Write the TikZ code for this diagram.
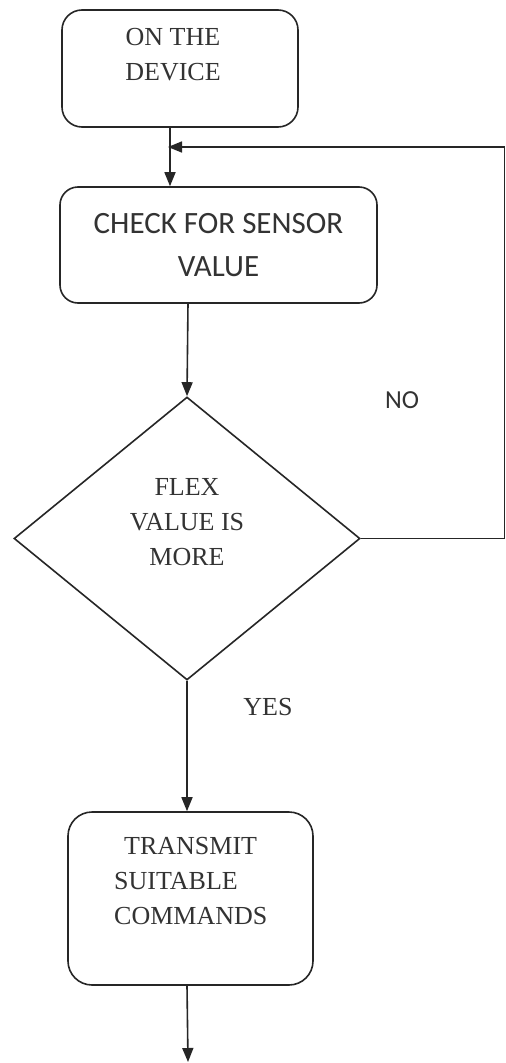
\documentclass[tikz,border=0pt]{standalone}
\usepackage{fontspec}
\setmainfont{Liberation Serif}
\newfontfamily\calib{Carlito}
\usetikzlibrary{arrows.meta,shapes.geometric,calc}
\begin{document}
\begin{tikzpicture}[x=1pt,y=1pt,
  line/.style={draw=black!85,line width=1.6pt},
  arr/.style={line,-{Triangle[length=14pt,width=11pt]}},
  boxnode/.style={line,rounded corners=20pt,inner sep=0pt},
  serif/.style={font=\fontsize{26}{35}\selectfont,text=black!80,inner sep=0pt},
  sans/.style={font=\calib\fontsize{31}{43}\selectfont,text=black!80,inner sep=0pt}]
\useasboundingbox[fill=white] (0,0) rectangle (506,-1063);
% boxes
\node[boxnode,minimum width=236pt,minimum height=117pt] (b1) at (180,-68.5) {};
\node[serif,align=center] (t1) at (173,-55) {ON THE\\DEVICE};
\node[boxnode,rounded corners=18pt,minimum width=317pt,minimum height=116pt,sans,align=center] (b2) at (218.5,-245) {CHECK FOR SENSOR\\VALUE};
\node[line,diamond,minimum width=346pt,minimum height=283pt,inner sep=0pt] (d) at (187,-538.5) {};
\node[serif,align=center] (td) at (187,-522.5) {FLEX\\VALUE IS\\MORE};
\node[boxnode,rounded corners=24pt,minimum width=245pt,minimum height=173pt] (b3) at (190.5,-898.5) {};
\node[serif,align=left,anchor=west] (t3) at (114,-881) {\hspace{10pt}TRANSMIT\\SUITABLE\\COMMANDS};
% labels
\node[sans,font=\calib\fontsize{26}{30}\selectfont] (no) at (402,-400) {NO};
\node[serif] (yes) at (268,-707) {YES};
% connectors
\coordinate (j) at (170,-147);
\coordinate (cr) at (504.5,-147);
\coordinate (endp) at (188,-1062);
\draw[arr] (j |- b1.south) -- (j |- b2.north);
\draw[arr] (188,-303) coordinate (b2o) -- (d.north);
\draw[line] (d.east) -| (cr);
\draw[arr,shorten >=-2pt] (cr) -- (j);
\draw[arr] (d.south) -- (d.south |- b3.north);
\draw[arr] (d.south |- b3.south) -- (endp);
\end{tikzpicture}
\end{document}
